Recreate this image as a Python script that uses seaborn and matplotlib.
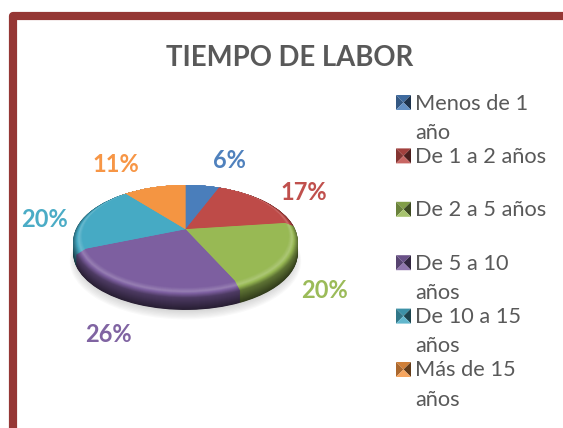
import numpy as np
import matplotlib
matplotlib.use("Agg")
import matplotlib.pyplot as plt
import matplotlib.transforms as mtransforms
from matplotlib.patches import Polygon
import seaborn as sns

title = "TIEMPO DE LABOR"
categories = ["Menos de 1\naño", "De 1 a 2 años", "De 2 a 5 años",
              "De 5 a 10\naños", "De 10 a 15\naños", "Más de 15\naños"]
values = [6, 17, 20, 26, 20, 11]
slice_colors = ["#4A7EBB", "#BE4B48", "#98B954", "#7D5FA0", "#46AAC4", "#F49542"]
label_colors = ["#4F81BD", "#C0504D", "#9BBB59", "#8064A2", "#4BACC6", "#F79646"]

sns.set_theme(style="white")
plt.rcParams["font.family"] = ["Lato", "DejaVu Sans"]
palette = sns.color_palette(slice_colors)


# tilts the flat pie backwards, the far edge ends up smaller than the near one
class Tilt(mtransforms.Transform):
    input_dims = 2
    output_dims = 2
    is_separable = False

    def __init__(self, cx, cy, rx, ry, k):
        super().__init__()
        self.cx, self.cy, self.rx, self.ry, self.k = cx, cy, rx, ry, k

    def transform_non_affine(self, xy):
        xy = np.asarray(xy, dtype=float)
        w = 1 + self.k * xy[:, 1]
        return np.column_stack([self.cx + self.rx * xy[:, 0] / w,
                                self.cy - self.ry * xy[:, 1] / w])


def shade(color, f):
    c = np.array(color)
    if f <= 1:
        return tuple(c * f)
    return tuple(c + (1 - c) * (f - 1))


fig = plt.figure(figsize=(5.63, 4.28), dpi=100)
ax = fig.add_axes([0, 0, 1, 1])


def draw_pie(colors, radius, shift, drop, alpha=None):
    wedges, _ = ax.pie(values, colors=colors, startangle=90, counterclock=False,
                       radius=radius, center=(0, shift), frame=False,
                       wedgeprops=dict(linewidth=0, alpha=alpha))
    tr = Tilt(185.5, 233 + drop, 111, 55.2, 0.15) + ax.transData
    for w in wedges:
        w.set_transform(tr)
        w.set_clip_on(False)


# soft shadow under the pie
for i in range(8):
    draw_pie(["#808080"] * 6, 1.03 - i * 0.008, 0, 15 + (7 - i) * 0.6, alpha=0.045)

# side of the disc, dark at the bottom
for d in np.arange(12, -0.5, -0.5):
    f = 0.32 + 0.3 * (12 - d) / 12
    draw_pie([shade(c, f) for c in palette], 1.0, 0, d)

# rounded bevel up to the flat top
for t in np.linspace(0, 1, 22):
    if t < 0.6:
        f = 0.62 + (1.2 - 0.62) * t / 0.6
    else:
        f = 1.2 - 0.2 * (t - 0.6) / 0.4
    draw_pie([shade(c, f) for c in palette], 1 - 0.07 * t, 0.07 * t, 0)

ax.set_aspect("auto")
ax.set_xlim(0, 563)
ax.set_ylim(428, 0)
ax.axis("off")

# frame of the chart, it runs off the picture on the right and at the bottom
ax.plot([13, 13, 575], [440, 16, 16], color="#953735", lw=5.9,
        solid_joinstyle="round", clip_on=True)

ax.text(290, 58, title, color="#595959", fontsize=19.8, fontweight="bold",
        ha="center", va="center")

label_pos = [(229, 161), (304, 192), (325, 290), (108, 335), (44, 219), (116, 165)]
for v, (x, y), c in zip(values, label_pos, label_colors):
    ax.text(x, y, f"{v}%", color=c, fontsize=17, fontweight="bold",
            ha="center", va="center")

# legend, every key is a small square with four shaded sides
for i, (name, c) in enumerate(zip(categories, palette)):
    y = 102.5 + i * 53.4
    l, r, t, b = 396, 411, y - 7.5, y + 7.5
    mx, my = (l + r) / 2, y
    ax.add_patch(Polygon([(l, t), (r, t), (mx, my)], fc=shade(c, 0.85), lw=0))
    ax.add_patch(Polygon([(l, t), (l, b), (mx, my)], fc=shade(c, 0.7), lw=0))
    ax.add_patch(Polygon([(r, t), (r, b), (mx, my)], fc=shade(c, 0.4), lw=0))
    ax.add_patch(Polygon([(l, b), (r, b), (mx, my)], fc=shade(c, 1.15), lw=0))
    ax.text(415, y - 9, name, color="#595959", fontsize=15.7, ha="left", va="top",
            linespacing=1.58)

fig.savefig("out.png", dpi=100)
